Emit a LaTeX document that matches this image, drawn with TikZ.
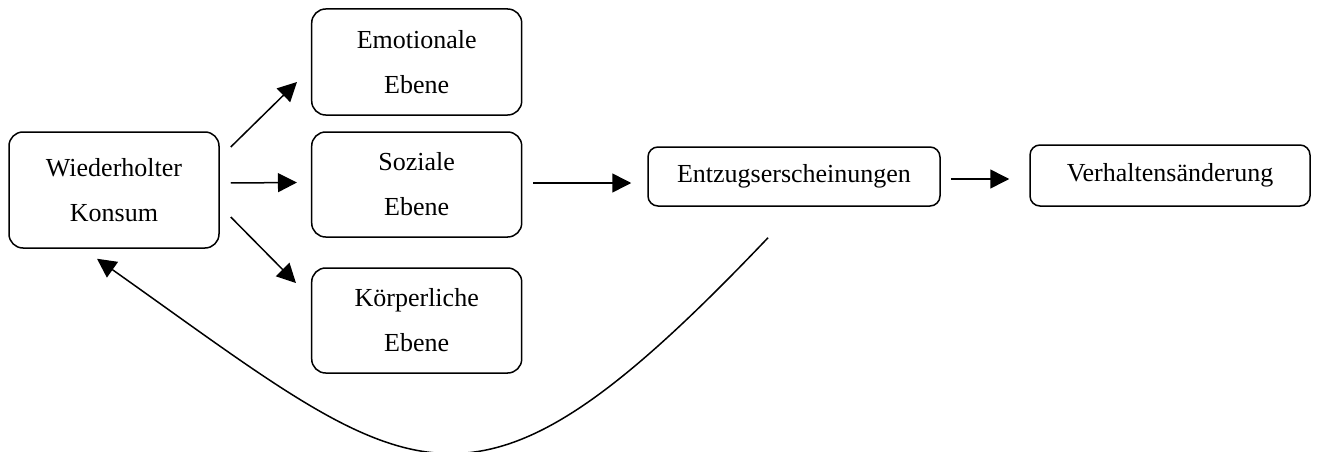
\documentclass[tikz,border=0pt]{standalone}
\usepackage{fontspec}
\setmainfont{Liberation Serif}
\usetikzlibrary{arrows.meta}
\begin{document}
\begin{tikzpicture}[x=1pt,y=-1pt,
  box/.style={draw, line width=1.5pt, rounded corners=14pt, align=center, inner sep=0pt,
    font=\fontsize{26}{45}\selectfont},
  arr/.style={line width=1.5pt, -{Triangle[length=19pt,width=19pt]}}]
\useasboundingbox (0,0) rectangle (1317,452);
\node[box, minimum width=210pt, minimum height=116pt] (wk) at (114,190) {Wiederholter\\Konsum};
\node[box, minimum width=210pt, minimum height=106pt] (emo) at (416.7,62) {Emotionale\\Ebene};
\node[box, minimum width=210pt, minimum height=105pt] (soz) at (416.7,184.5) {Soziale\\Ebene};
\node[box, minimum width=210pt, minimum height=105pt] (korp) at (416.7,320.5) {Körperliche\\Ebene};
\node[box, rounded corners=10pt, minimum width=292pt, minimum height=59pt] (ent) at (794,176.5) {Entzugserscheinungen};
\node[box, rounded corners=10pt, minimum width=280pt, minimum height=61pt] (ver) at (1170,175.5) {Verhaltensänderung};
\draw[arr] ([xshift=11pt,yshift=43pt]wk.east) -- ([xshift=-14pt,yshift=-20pt]emo.west);
\draw[arr] ([xshift=11pt,yshift=7pt]wk.east) -- ([xshift=-14pt,yshift=2pt]soz.west);
\draw[arr] ([xshift=11pt,yshift=-27pt]wk.east) -- ([xshift=-15pt,yshift=37.5pt]korp.west);
\draw[arr] ([xshift=11pt,yshift=1.5pt]soz.east) -- ([xshift=-16pt,yshift=-6.5pt]ent.west);
\draw[arr] ([xshift=10pt,yshift=-2.5pt]ent.east) -- ([xshift=-20pt,yshift=-3.5pt]ver.west);
\draw[arr] ([xshift=-26pt,yshift=-31pt]ent.south) .. controls (467,554) and (418,486) .. ([xshift=-17pt,yshift=-10pt]wk.south);
\end{tikzpicture}
\end{document}
